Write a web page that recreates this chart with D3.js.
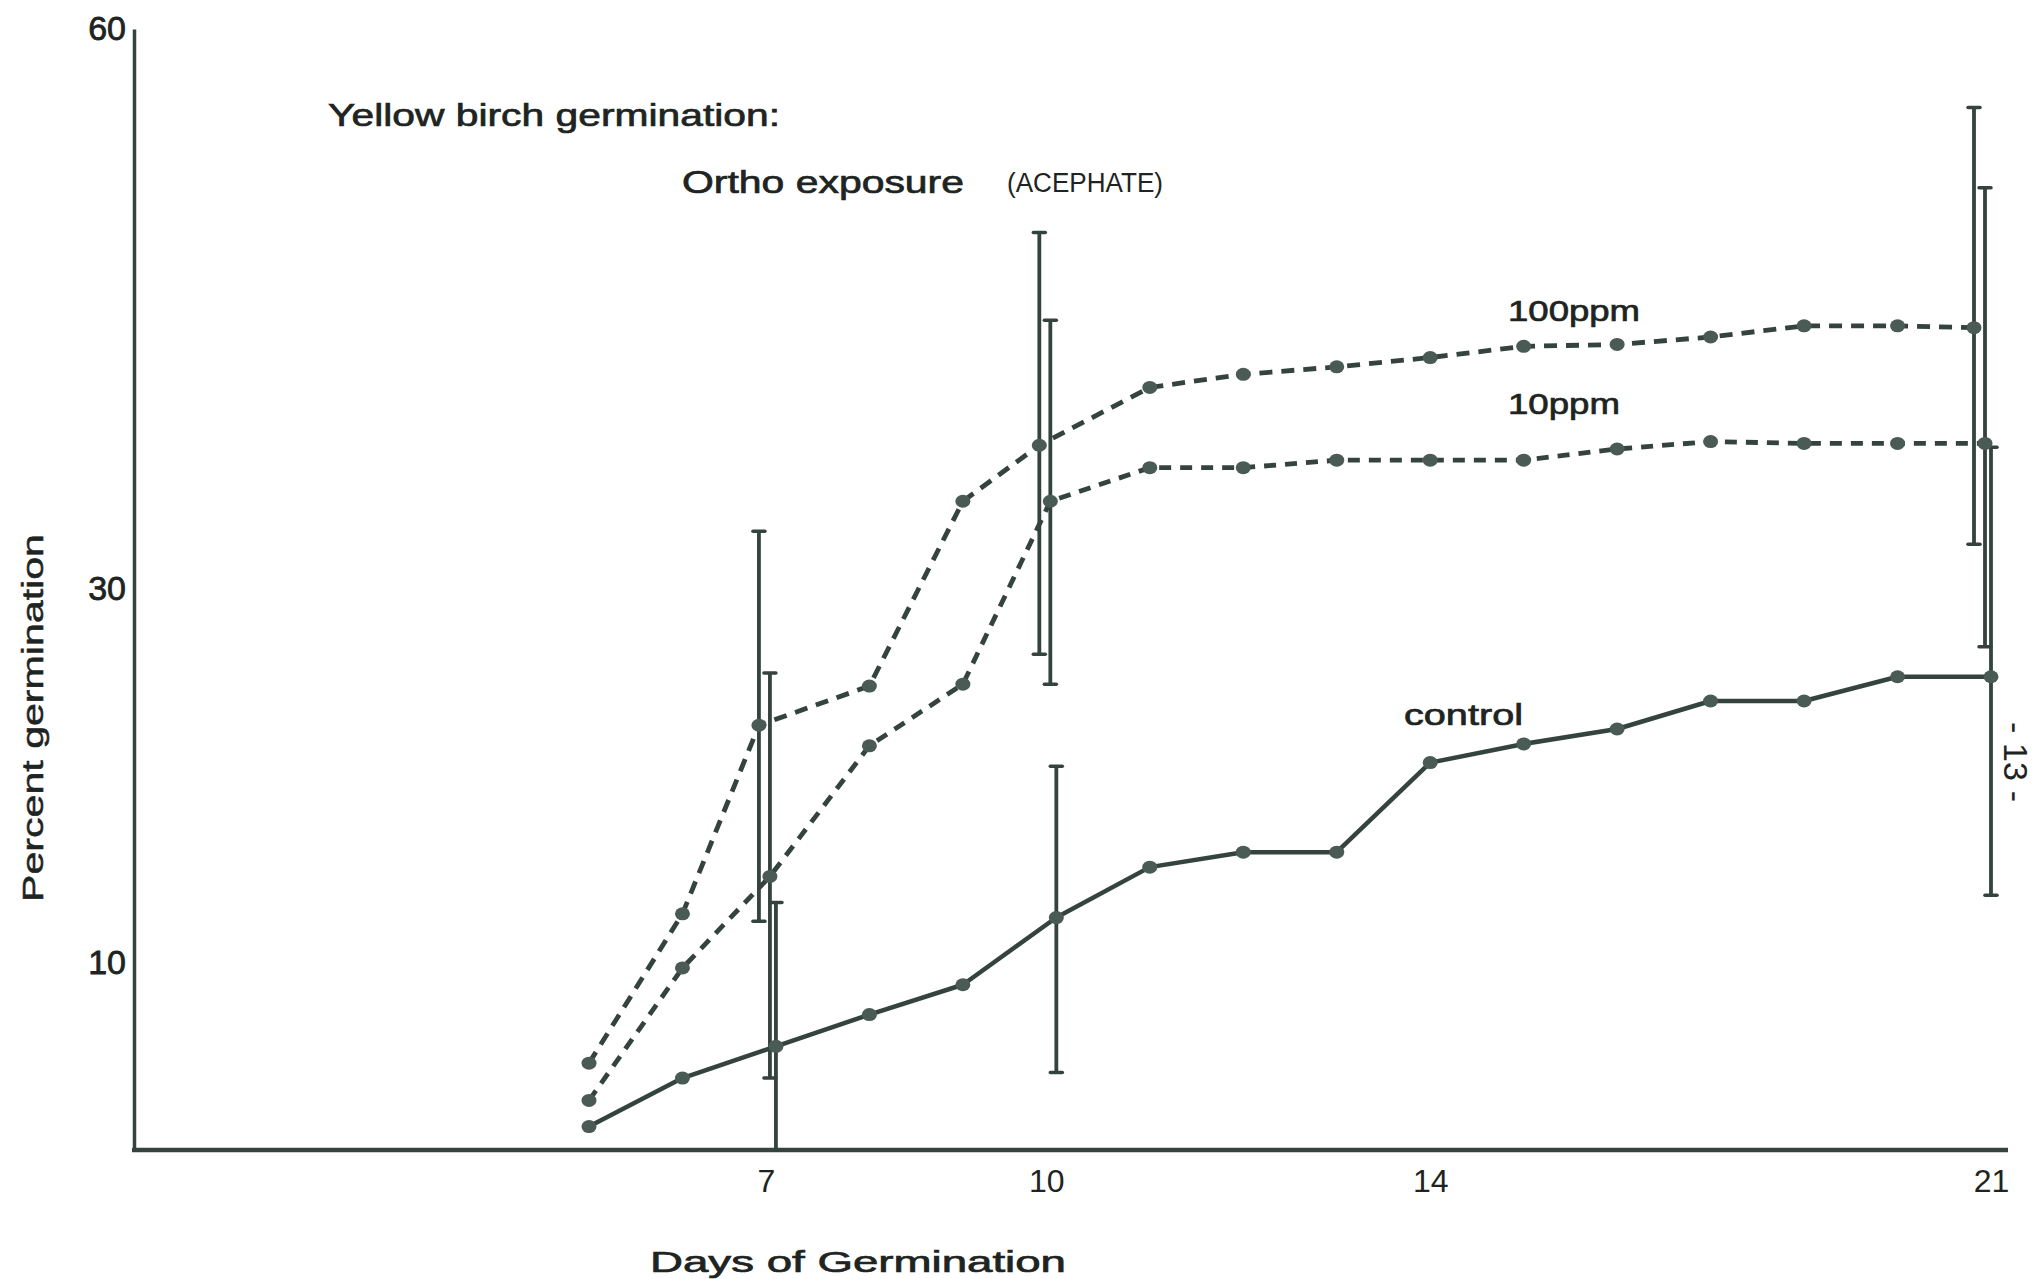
<!DOCTYPE html>
<html><head><meta charset="utf-8">
<script src="https://cdn.jsdelivr.net/npm/d3@7"></script>
<style>
html,body{margin:0;padding:0;background:#fff;}
svg{display:block;}
text{font-family:"Liberation Sans", Arial, Helvetica, sans-serif; fill:#1e2421;}
</style></head><body>
<svg id="c" width="2038" height="1279"></svg>
<script>
// ---- data ----
const days = [5,6,7,8,9,10,11,12,13,14,15,16,17,18,19,21];
const xTickDays = [7,10,14,21];
const yTickValues = [10,30,60];
const control = [1.2,3.8,5.5,7.2,8.8,12.4,15.1,15.9,15.9,20.7,21.7,22.5,24.0,24.0,25.3,25.3];
const ppm100  = [4.6,12.6,22.7,24.8,34.7,37.7,40.8,41.5,41.9,42.4,43.0,43.1,43.5,44.1,44.1,44.0];
const ppm10   = [2.6,9.7,14.6,21.6,24.9,34.7,36.5,36.5,36.9,36.9,36.9,37.5,37.9,37.8,37.8,37.8];
const errDays = [7,10,21];
const ppm100Lo  = [12.2,26.5,32.4];
const ppm100Hi  = [33.1,49.1,55.8];
const ppm10Lo   = [3.8,24.9,26.9];
const ppm10Hi   = [25.5,44.4,51.5];
const controlLo = [0,4.1,13.6];
const controlHi = [13.2,20.5,37.6];

// ---- layout ----
const ink = "#34433e";
const textInk = "#1e2421";
const svg = d3.select("#c");
const x = d3.scalePoint().domain(days).range([589, 1991]);
const y = d3.scaleLinear().domain([0, 60]).range([1149, 29]);
const axisX = 134;

const series = [
  {name:"100ppm", values:ppm100, lo:ppm100Lo, hi:ppm100Hi, dash:"13,9", dx:-17},
  {name:"10ppm",  values:ppm10,  lo:ppm10Lo,  hi:ppm10Hi,  dash:"12,9", dx:-6},
  {name:"control",values:control,lo:controlLo,hi:controlHi,dash:null,   dx:0}
];
const px = (d, s) => x(d) + (errDays.includes(d) ? s.dx : 0);

// axes
const gy = svg.append("g").attr("transform", `translate(${axisX},0)`)
  .call(d3.axisLeft(y).tickValues(yTickValues).tickSize(0).tickSizeOuter(0).tickPadding(8));
gy.select(".domain").attr("stroke", ink).attr("stroke-width", 3.5);
gy.selectAll("text").attr("font-size", 34).attr("fill", textInk)
  .attr("stroke", textInk).attr("stroke-width", 0.8)
  .attr("font-family", "Liberation Sans, Arial, sans-serif");

svg.append("line").attr("x1", axisX - 2).attr("x2", 2008)
  .attr("y1", y(0) + 1).attr("y2", y(0) + 1)
  .attr("stroke", ink).attr("stroke-width", 4.5);

const gx = svg.append("g").attr("transform", `translate(0,${y(0)})`)
  .call(d3.axisBottom(x).tickValues(xTickDays).tickSize(0).tickPadding(20));
gx.select(".domain").remove();
gx.selectAll("text").attr("font-size", 32).attr("fill", textInk)
  .attr("font-family", "'DejaVu Sans Condensed', 'Liberation Sans Narrow', Arial, sans-serif")
  .attr("dx", d => d === 7 || d === 10 ? -10 : 0);

// error bars
series.forEach(s => {
  const eb = errDays.map((d, i) => ({d, lo:s.lo[i], hi:s.hi[i]}));
  const g = svg.append("g");
  g.selectAll("line.bar").data(eb).join("line")
    .attr("x1", e => px(e.d, s)).attr("x2", e => px(e.d, s))
    .attr("y1", e => y(e.hi)).attr("y2", e => y(e.lo))
    .attr("stroke", ink).attr("stroke-width", 3.8);
  g.selectAll("line.caphi").data(eb).join("line")
    .attr("x1", e => px(e.d, s) - 6).attr("x2", e => px(e.d, s) + 6)
    .attr("y1", e => y(e.hi)).attr("y2", e => y(e.hi))
    .attr("stroke", ink).attr("stroke-width", 3.5).attr("stroke-linecap", "round");
  g.selectAll("line.caplo").data(eb.filter(e => e.lo > 0)).join("line")
    .attr("x1", e => px(e.d, s) - 6).attr("x2", e => px(e.d, s) + 6)
    .attr("y1", e => y(e.lo)).attr("y2", e => y(e.lo))
    .attr("stroke", ink).attr("stroke-width", 3.5).attr("stroke-linecap", "round");
});

// lines + points
series.forEach(s => {
  const pts = days.map((d, i) => ({d, v:s.values[i]}));
  const line = d3.line().x(p => px(p.d, s)).y(p => y(p.v));
  svg.append("path").datum(pts).attr("d", line)
    .attr("fill", "none").attr("stroke", ink)
    .attr("stroke-width", s.dash ? 4.8 : 4.5)
    .attr("stroke-dasharray", s.dash)
    .attr("stroke-linejoin", "round");
  svg.append("g").selectAll("ellipse").data(pts).join("ellipse")
    .attr("cx", p => px(p.d, s)).attr("cy", p => y(p.v))
    .attr("rx", 7.5).attr("ry", 6.5).attr("fill", "#4a5a54");
});

// texts
function txt(t, xx, yy, size, len, extra) {
  const el = svg.append("text").attr("x", xx).attr("y", yy).attr("font-size", size)
    .attr("stroke", textInk).attr("stroke-width", 0.7).text(t);
  if (len) el.attr("textLength", len).attr("lengthAdjust", "spacingAndGlyphs");
  if (extra) extra(el);
  return el;
}
txt("Yellow  birch germination:", 328, 126, 32, 452);
txt("Ortho  exposure", 682, 193, 32, 282);
txt("(ACEPHATE)", 1007, 192, 27, 156, el => el.attr("font-family", "'Liberation Mono', 'DejaVu Sans Mono', monospace").attr("stroke-width", 0));
txt("100ppm", 1508, 321, 30, 132);
txt("10ppm", 1508, 414, 30, 112);
txt("control", 1404, 725, 30, 119);
txt("Days  of  Germination", 650, 1272, 30, 416);
svg.append("text").attr("transform", "translate(43,718) rotate(-90)")
  .attr("text-anchor", "middle").attr("font-size", 30)
  .attr("stroke", textInk).attr("stroke-width", 0.5)
  .attr("textLength", 368).attr("lengthAdjust", "spacingAndGlyphs")
  .text("Percent  germination");
svg.append("text").attr("transform", "translate(2004,762) rotate(90)")
  .attr("text-anchor", "middle").attr("font-size", 34)
  .attr("textLength", 80).attr("lengthAdjust", "spacing")
  .text("-  13  -");
</script>
</body></html>
